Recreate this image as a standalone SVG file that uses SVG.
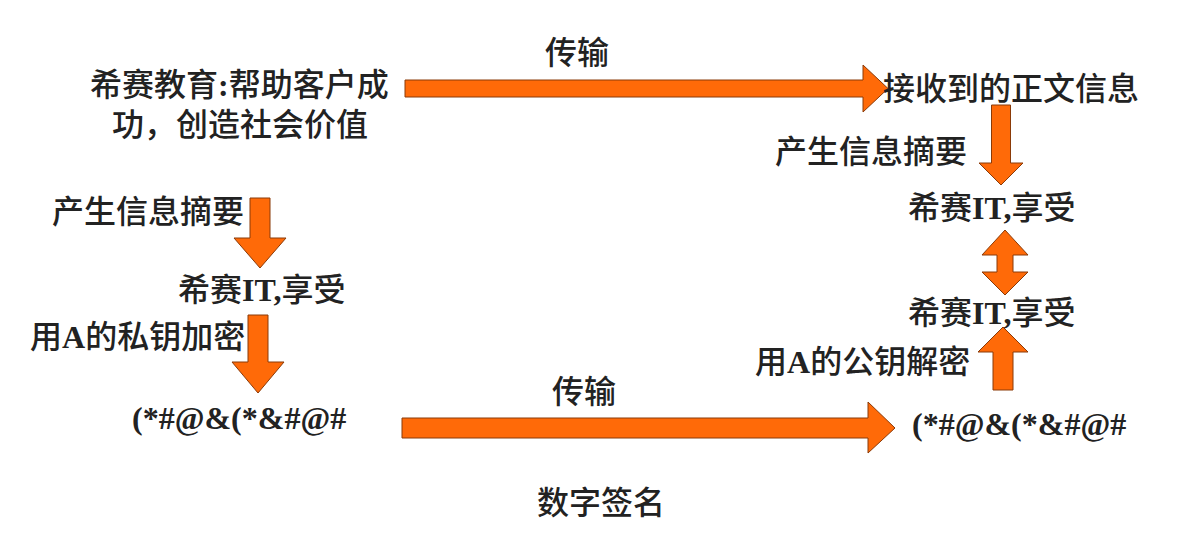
<svg xmlns="http://www.w3.org/2000/svg" width="1197" height="544" viewBox="0 0 1197 544">
<style>
.t{font-family:"Liberation Serif","Noto Sans CJK SC",serif;font-size:32px;fill:#222;font-weight:500}
.b{font-weight:bold}
.arr{fill:#FF6A08;stroke:#8A3A08;stroke-width:1;stroke-linejoin:miter}
</style>
<rect width="1197" height="544" fill="#ffffff"/>
<g id="connectors">
  <!-- top transmit arrow -->
  <path class="arr" d="M405,80 H863 V65 L888,88.5 L863,112 V97 H405 Z"/>
  <!-- bottom transmit arrow -->
  <path class="arr" d="M402,418 H868 V402 L895,428 L868,453 V438 H402 Z"/>
  <!-- left down 1 -->
  <path class="arr" d="M250,198 H270 V238 H286 L260,268 L234,238 H250 Z"/>
  <!-- left down 2 -->
  <path class="arr" d="M248,315 H268 V362 H284 L258,393 L232,362 H248 Z"/>
  <!-- right down -->
  <path class="arr" d="M991.5,105 H1010.5 V163 H1023 L1001,185 L979,163 H991.5 Z"/>
  <!-- double arrow -->
  <path class="arr" d="M1005,230 L1028,255 H1013 V272 H1028 L1005,295 L982,272 H997 V255 H982 Z"/>
  <!-- up arrow -->
  <path class="arr" d="M1003,327 L1028,352 H1013 V390 H993 V352 H978 Z"/>
</g>
<g id="labels">
  <text class="t" x="545" y="64">传输</text>
  <text class="t" x="52" y="223">产生信息摘要</text>
  <text class="t" x="30" y="348">用<tspan class="b">A</tspan>的私钥加密</text>
  <text class="t" x="552" y="403">传输</text>
  <text class="t" x="775" y="163">产生信息摘要</text>
  <text class="t" x="755" y="373">用<tspan class="b">A</tspan>的公钥解密</text>
  <text class="t" x="537" y="514">数字签名</text>
</g>
<g id="node-source">
  <text class="t" x="90" y="96">希赛教育<tspan class="b">:</tspan>帮助客户成</text>
  <text class="t" x="112" y="136">功，创造社会价值</text>
</g>
<g id="node-digest-left">
  <text class="t" x="178" y="301">希赛<tspan class="b">IT,</tspan>享受</text>
</g>
<g id="node-cipher-left">
  <text class="t b" x="132" y="429">(*#@&amp;(*&amp;#@#</text>
</g>
<g id="node-received">
  <text class="t" x="883" y="100">接收到的正文信息</text>
</g>
<g id="node-digest-right1">
  <text class="t" x="908" y="219">希赛<tspan class="b">IT,</tspan>享受</text>
</g>
<g id="node-digest-right2">
  <text class="t" x="908" y="324">希赛<tspan class="b">IT,</tspan>享受</text>
</g>
<g id="node-cipher-right">
  <text class="t b" x="912" y="435">(*#@&amp;(*&amp;#@#</text>
</g>
</svg>
